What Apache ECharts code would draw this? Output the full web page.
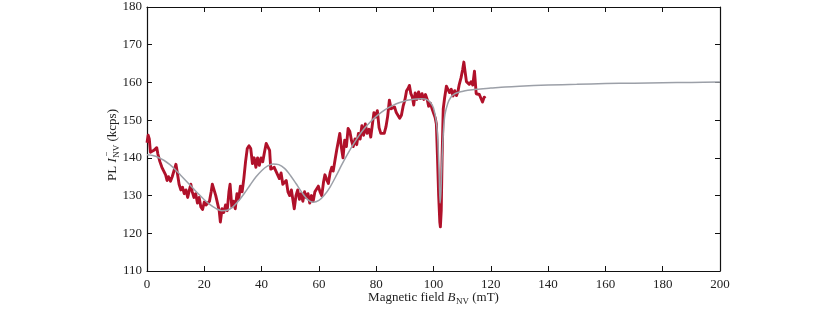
<!DOCTYPE html>
<html><head><meta charset="utf-8">
<script src="https://cdn.jsdelivr.net/npm/echarts@6/dist/echarts.min.js"></script>
<style>html,body{margin:0;padding:0;background:#fff}#c{width:830px;height:312px}</style>
</head><body><div id="c"></div>
<script>
// Measured PL (red)
const measB = [0,0.4,0.8,1.2,1.8,2.4,3.0,3.4,3.8,4.5,5.2,5.8,6.5,7.0,7.5,8.2,8.8,9.4,10.1,10.6,11.2,11.8,12.4,13.0,13.6,14.2,14.8,15.3,15.8,16.4,17.0,17.6,18.2,18.8,19.4,20.0,20.6,21.2,21.8,22.4,22.8,23.4,24.0,24.6,25.2,25.6,26.2,26.8,27.4,28.0,28.6,29.0,29.6,30.2,30.8,31.4,32.0,32.6,33.2,33.8,34.4,35.0,35.6,36.2,36.8,37.4,38.0,38.6,39.2,39.8,40.4,41.0,41.6,42.2,42.8,43.2,43.8,44.4,45.0,45.6,46.2,46.8,47.4,48.0,48.6,49.2,49.8,50.4,51.0,51.4,52.0,52.6,53.2,53.8,54.4,55.0,55.6,56.2,56.8,57.4,58.0,58.6,59.2,59.8,60.4,61.0,61.6,62.1,62.6,63.3,63.9,64.5,65.0,65.6,66.2,66.8,67.3,67.8,68.4,69.0,69.6,70.2,70.8,71.4,72.0,72.6,73.2,73.8,74.4,75.0,75.6,76.2,76.8,77.5,78.1,78.6,79.2,79.8,80.4,81.0,81.6,82.2,82.8,83.4,84.0,84.6,85.2,85.8,86.4,87.0,87.6,88.2,88.8,89.4,90.0,90.6,91.2,91.6,92.1,92.6,93.1,93.6,94.2,94.8,95.4,96.0,96.6,97.2,97.8,98.3,98.9,99.5,100.0,100.6,101.0,101.4,101.8,102.2,102.4,102.7,103.0,103.4,103.9,104.5,105.0,105.6,106.2,106.8,107.4,108.0,108.5,109.0,109.6,110.2,110.6,111.0,111.5,112.0,112.5,113.1,113.7,114.3,114.6,114.9,115.4,116.0,116.6,117.1,117.7,118.1];
const measV = [144,146,145,141.5,141,142,141.5,142.7,141,139,137.5,137,135.5,134,135,133.8,135,135.2,138.3,136,133,131.5,132.2,130.5,131.5,129.5,131.5,133,131,129.5,130.5,128,129.5,127,126.3,128.3,127.5,127.8,128.5,131,133,131.5,130,129.8,126,123,126.5,125.5,127.5,126,131,133,127,128.5,126.5,130.5,129,132.5,131,134.5,139,142.5,143.2,142.5,138.5,140,137.5,140,138,140,139,141.5,143.8,144.3,142,137,136.8,137.5,136.5,137,134.5,136,133,132.5,134,131,130,131.5,128.5,126.5,130,131.5,129,130.5,128.5,131,129.5,130.5,128,130,128.5,131,130.5,132.5,131,130,133.5,135.5,134.5,133.2,136,137.5,136.5,139.3,142,144.5,146.5,143,140,144.7,143,147.8,147,144.5,143,145,143.5,146.5,145,148.5,146,149,146.5,147.6,145.5,146,152,150.8,152.5,148,146.5,147,146.5,148.2,151,155.3,153,152.5,153.5,152,151.8,150.5,151.3,153.7,155.3,157.8,158.5,159.2,157,156.2,154,157.2,155.5,157.5,155.7,157,155.5,156.8,155.5,153.7,154.5,153,152.5,150.6,149,140,130,123,121.7,126,140,153,156,159,158.8,157.3,158.2,156.4,157.8,156.5,157.5,159.5,161.2,163.5,165.4,163,160.2,160.6,159.5,160.2,159.3,163,160,157,157.5,156.8,157.3,154.8,156.1,155.8];
// Fit curve (gray)
const fitB = [0,2,4,6,8,10,12,14,16,18,20,22,24,26,28,30,32,34,36,38,40,42,44,46,48,50,52,54,56,58,60,62,64,66,68,70,72,74,76,78,80,82,84,86,88,90,92,94,96,97,98,99,100,101,101.5,102,102.3,102.6,103,103.5,104,105,106,107,108,110,112,115,120,125,130,140,150,160,170,180,190,200];
const fitV = [140.8,140.6,140.1,139.3,138.2,136.8,135.2,133.6,132.0,130.4,128.9,127.6,126.6,126.0,126.1,127.0,128.6,130.6,132.8,134.9,136.6,137.8,138.4,138.2,137.2,135.4,133.2,130.9,129.0,128.2,128.7,130.2,132.4,135.2,138.2,141.0,143.6,145.9,147.9,149.6,151.0,152.2,153.2,154.0,154.6,155.1,155.4,155.6,155.7,155.6,155.3,154.6,153.2,149.5,145,135,128,131,140,147.5,151.5,154.5,156.0,156.8,157.2,157.6,157.9,158.2,158.5,158.8,159.0,159.3,159.5,159.7,159.8,159.9,160.0,160.1];
const xTicks = [0,20,40,60,80,100,120,140,160,180,200];
const yTicks = [110,120,130,140,150,160,170,180];

const G = {left:147, top:7, width:573, height:264};
const FONT = '"Liberation Serif","Times New Roman",serif';
const ctx = document.createElement('canvas').getContext('2d');
function w(t, size, italic){ ctx.font = (italic?'italic ':'') + size + 'px ' + FONT; return ctx.measureText(t).width; }
const mk = (t,x,y,size,it)=>({type:'text', x:x, y:y, style:{text:t, font:(it?'italic ':'')+size+'px '+FONT, fill:'#222', textVerticalAlign:'middle'}});

function yLabelEls(){
  const a = w('PL ',13,false), b = w('I',13,true)+0.5, c = w('NV',9,false), d = w(' (kcps)',13,false);
  const x0 = -(a+b+c+d)/2;
  return [mk('PL ',x0,0,13,false), mk('I',x0+a,0,13,true), mk('NV',x0+a+b,4,9,false), mk('\u2212',x0+a+b+1,-6,9,false), mk(' (kcps)',x0+a+b+c,0,13,false)];
}
function xLabelEls(){
  const a = w('Magnetic field ',13,false), b = w('B',13,true)+0.5, c = w('NV',9,false), d = w(' (mT)',13,false);
  const x0 = -(a+b+c+d)/2;
  return [mk('Magnetic field ',x0,0,13,false), mk('B',x0+a,0,13,true), mk('NV',x0+a+b,4,9,false), mk(' (mT)',x0+a+b+c,0,13,false)];
}

const chart = echarts.init(document.getElementById('c'));
const axisCommon = {
  min:0, max:200, interval:20, type:'value',
  axisLine:{show:true, onZero:false, lineStyle:{color:'#111', width:1.2}},
  axisTick:{show:true, inside:true, length:5, lineStyle:{color:'#111', width:1}},
  splitLine:{show:false}
};
const yCommon = {
  min:110, max:180, interval:10, type:'value',
  axisLine:{show:true, onZero:false, lineStyle:{color:'#111', width:1.2}},
  axisTick:{show:true, inside:true, length:5, lineStyle:{color:'#111', width:1}},
  splitLine:{show:false}
};

chart.setOption({
  animation:false,
  backgroundColor:'#fff',
  grid:{left:G.left, top:G.top, width:G.width, height:G.height},
  xAxis:[
    Object.assign({}, axisCommon, {position:'bottom', axisLabel:{show:true, margin:7, color:'#222', fontFamily:FONT, fontSize:13}}),
    Object.assign({}, axisCommon, {position:'top', axisLabel:{show:false}})
  ],
  yAxis:[
    Object.assign({}, yCommon, {position:'left', axisLabel:{show:true, margin:5, color:'#222', fontFamily:FONT, fontSize:13}}),
    Object.assign({}, yCommon, {position:'right', axisLabel:{show:false}})
  ],
  series:[
    {type:'line', xAxisIndex:0, yAxisIndex:0, showSymbol:false, symbol:'none', smooth:false,
     lineStyle:{color:'#b0112a', width:2.9, join:'round'}, z:2,
     data: measB.map((b,i)=>[b, measV[i]])},
    {type:'line', xAxisIndex:0, yAxisIndex:0, showSymbol:false, symbol:'none', smooth:0.3,
     lineStyle:{color:'#9ca0a8', width:1.5}, z:3,
     data: fitB.map((b,i)=>[b, fitV[i]])}
  ],
  graphic:[
    {type:'group', x:G.left+G.width/2, y:298, children:xLabelEls()},
    {type:'group', x:113, y:145, rotation:Math.PI/2, children:yLabelEls()}
  ]
});
</script></body></html>
